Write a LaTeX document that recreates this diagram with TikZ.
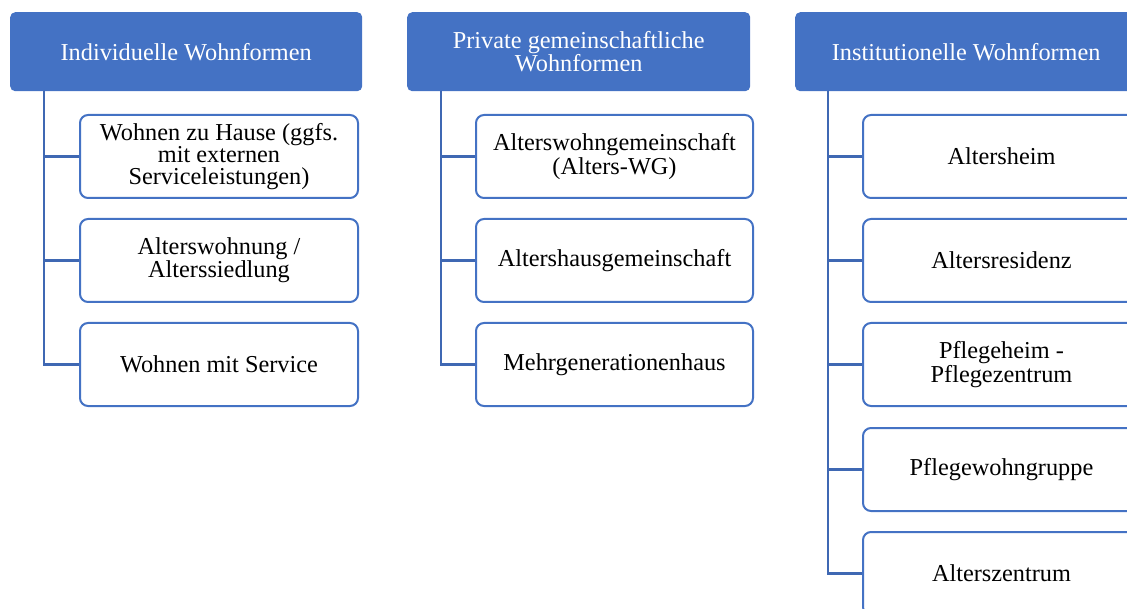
\documentclass[tikz,border=0pt]{standalone}
\usepackage{fontspec}
\setmainfont{Liberation Serif}
\definecolor{hdrblue}{HTML}{4472C4}
\definecolor{linkblue}{HTML}{3F68B3}
\begin{document}
\begin{tikzpicture}[x=1pt,y=-1pt,
  txt/.style={font=\fontsize{24.3}{21.6}\selectfont, align=center},
  header/.style={txt, fill=hdrblue, text=white, rounded corners=5pt, inner sep=0pt,
    minimum height=79pt, anchor=north west},
  item/.style={txt, draw=hdrblue, line width=2pt, fill=white, rounded corners=8pt, inner sep=0pt,
    minimum width=277pt, minimum height=83pt, anchor=north west},
  conn/.style={draw=linkblue, line width=2.4pt}]
\useasboundingbox (0,0) rectangle (1127,609);
\clip (0,0) rectangle (1127,609);

% column headers
\node[header, minimum width=352pt] (h1) at (10,12) {Individuelle Wohnformen};
\node[header, minimum width=343pt] (h2) at (407,12) {Private gemeinschaftliche\\Wohnformen};
\node[header, minimum width=342pt] (h3) at (795,12) {Institutionelle Wohnformen};

% spine start points below each header
\coordinate (s1) at (44,91);
\coordinate (s2) at (441,91);
\coordinate (s3) at (828,91);

% individual forms
\node[item, minimum width=278pt] (a1) at (79,114) {Wohnen zu Hause (ggfs.\\mit externen\\Serviceleistungen)};
\node[item, minimum width=278pt] (a2) at (79,218) {Alterswohnung /\\Alterssiedlung};
\node[item, minimum width=278pt] (a3) at (79,322) {Wohnen mit Service};

% private communal forms
\node[item] (b1) at (475,114) {Alterswohngemeinschaft\\(Alters-WG)};
\node[item] (b2) at (475,218) {Altershausgemeinschaft};
\node[item] (b3) at (475,322) {Mehrgenerationenhaus};

% institutional forms
\node[item] (c1) at (862,114) {Altersheim};
\node[item] (c2) at (862,218) {Altersresidenz};
\node[item] (c3) at (862,322) {Pflegeheim -\\Pflegezentrum};
\node[item] (c4) at (862,427) {Pflegewohngruppe};
\node[item] (c5) at (862,531) {Alterszentrum};

% connectors: vertical spine under each header, branching to every box
\foreach \c in {a1,a2,a3} \draw[conn] (s1) |- (\c.west);
\foreach \c in {b1,b2,b3} \draw[conn] (s2) |- (\c.west);
\foreach \c in {c1,c2,c3,c4,c5} \draw[conn] (s3) |- (\c.west);
\end{tikzpicture}
\end{document}
